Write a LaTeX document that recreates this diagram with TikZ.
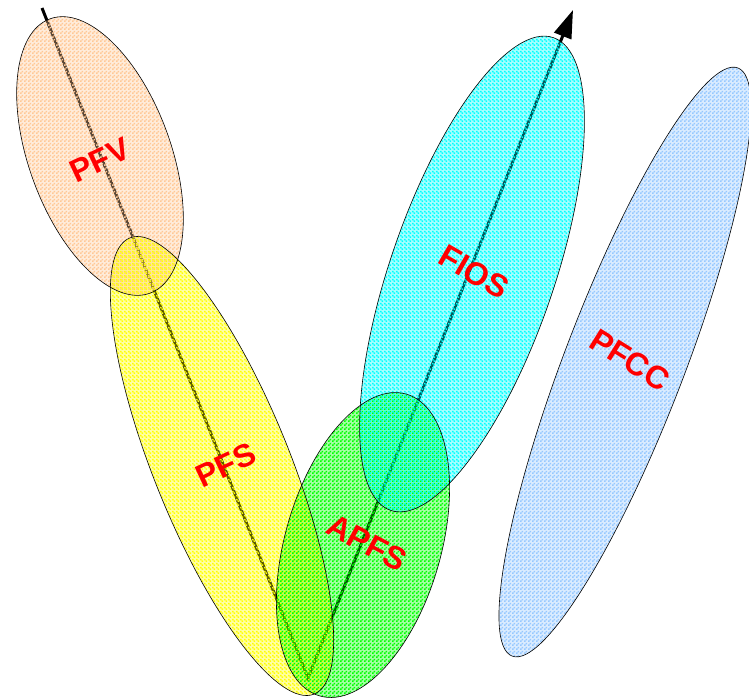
\documentclass[tikz,border=0pt]{standalone}
\usepackage{fontspec}
\setmainfont{Liberation Sans}
\usetikzlibrary{arrows.meta,patterns.meta}
\definecolor{pfvorange}{RGB}{255,200,150}
\definecolor{pfsyellow}{RGB}{255,255,0}
\definecolor{apfsgreen}{RGB}{0,255,0}
\definecolor{fioscyan}{RGB}{0,255,255}
\definecolor{pfccblue}{RGB}{150,200,255}
\definecolor{lblred}{RGB}{255,0,0}
\tikzdeclarepattern{name=dithA,type=uncolored,
  bottom left={(0pt,0pt)},top right={(4pt,4pt)},tile size={(4pt,4pt)},
  code={\fill (0pt,0pt) rectangle (2pt,2pt) (2pt,2pt) rectangle (4pt,4pt);}}
\tikzdeclarepattern{name=dithB,type=uncolored,
  bottom left={(0pt,0pt)},top right={(4pt,4pt)},tile size={(4pt,4pt)},
  code={\fill (2pt,0pt) rectangle (4pt,2pt) (0pt,2pt) rectangle (2pt,4pt);}}
\tikzset{
  lbl/.style={text=lblred,font=\fontsize{32}{36}\selectfont\bfseries,inner sep=0pt},
  rim/.style={draw=black,line width=0.6pt},
  tint/.style={fill=#1,fill opacity=0.35}
}

\begin{document}
\begin{tikzpicture}[x=1pt,y=1pt,>=Stealth]
  \useasboundingbox (0,0) rectangle (749,-697);
  \clip (0,0) rectangle (749,-697);
  \coordinate (S) at (42,-8); \coordinate (V) at (308,-678);
  \coordinate (T) at (573,-10);
  \draw[line width=3pt,-{Triangle[length=28pt,width=18pt]}] (S)--(V)--(T);
  % sets
  \coordinate (cPFV) at (100,-156); \coordinate (cPFS) at (222,-466);
  \coordinate (cAPFS) at (363,-545); \coordinate (cFIOS) at (472,-274);
  \coordinate (cPFCC) at (625,-362);
  \fill[tint=pfvorange] (cPFV) circle[x radius=71,y radius=146,rotate=20];
  \fill[tint=pfsyellow] (cPFS) circle[x radius=68,y radius=246,rotate=22];
  \fill[tint=apfsgreen] (cAPFS) circle[x radius=78,y radius=157,rotate=-16];
  \fill[tint=fioscyan] (cFIOS) circle[x radius=82,y radius=250,rotate=-19];
  \fill[tint=pfccblue] (cPFCC) circle[x radius=60,y radius=315,rotate=-21];
  \fill[pattern=dithA,pattern color=pfvorange] (cPFV) circle[x radius=71,y radius=146,rotate=20];
  \fill[pattern=dithB,pattern color=pfsyellow] (cPFS) circle[x radius=68,y radius=246,rotate=22];
  \fill[pattern=dithA,pattern color=apfsgreen] (cAPFS) circle[x radius=78,y radius=157,rotate=-16];
  \fill[pattern=dithB,pattern color=fioscyan] (cFIOS) circle[x radius=82,y radius=250,rotate=-19];
  \fill[pattern=dithA,pattern color=pfccblue] (cPFCC) circle[x radius=60,y radius=315,rotate=-21];
  \draw[rim] (cPFV) circle[x radius=71,y radius=146,rotate=20];
  \draw[rim] (cPFS) circle[x radius=68,y radius=246,rotate=22];
  \draw[rim] (cAPFS) circle[x radius=78,y radius=157,rotate=-16];
  \draw[rim] (cFIOS) circle[x radius=82,y radius=250,rotate=-19];
  \draw[rim] (cPFCC) circle[x radius=60,y radius=315,rotate=-21];
  \node[lbl,rotate=25] (PFV) at (100,-160) {PFV};
  \node[lbl,rotate=25] (PFS) at (226,-465) {PFS};
  \node[lbl,rotate=-28] (APFS) at (367,-543) {APFS};
  \node[lbl,rotate=-30] (FIOS) at (474,-272) {FIOS};
  \node[lbl,rotate=-32] (PFCC) at (630,-360) {PFCC};
\end{tikzpicture}
\end{document}
